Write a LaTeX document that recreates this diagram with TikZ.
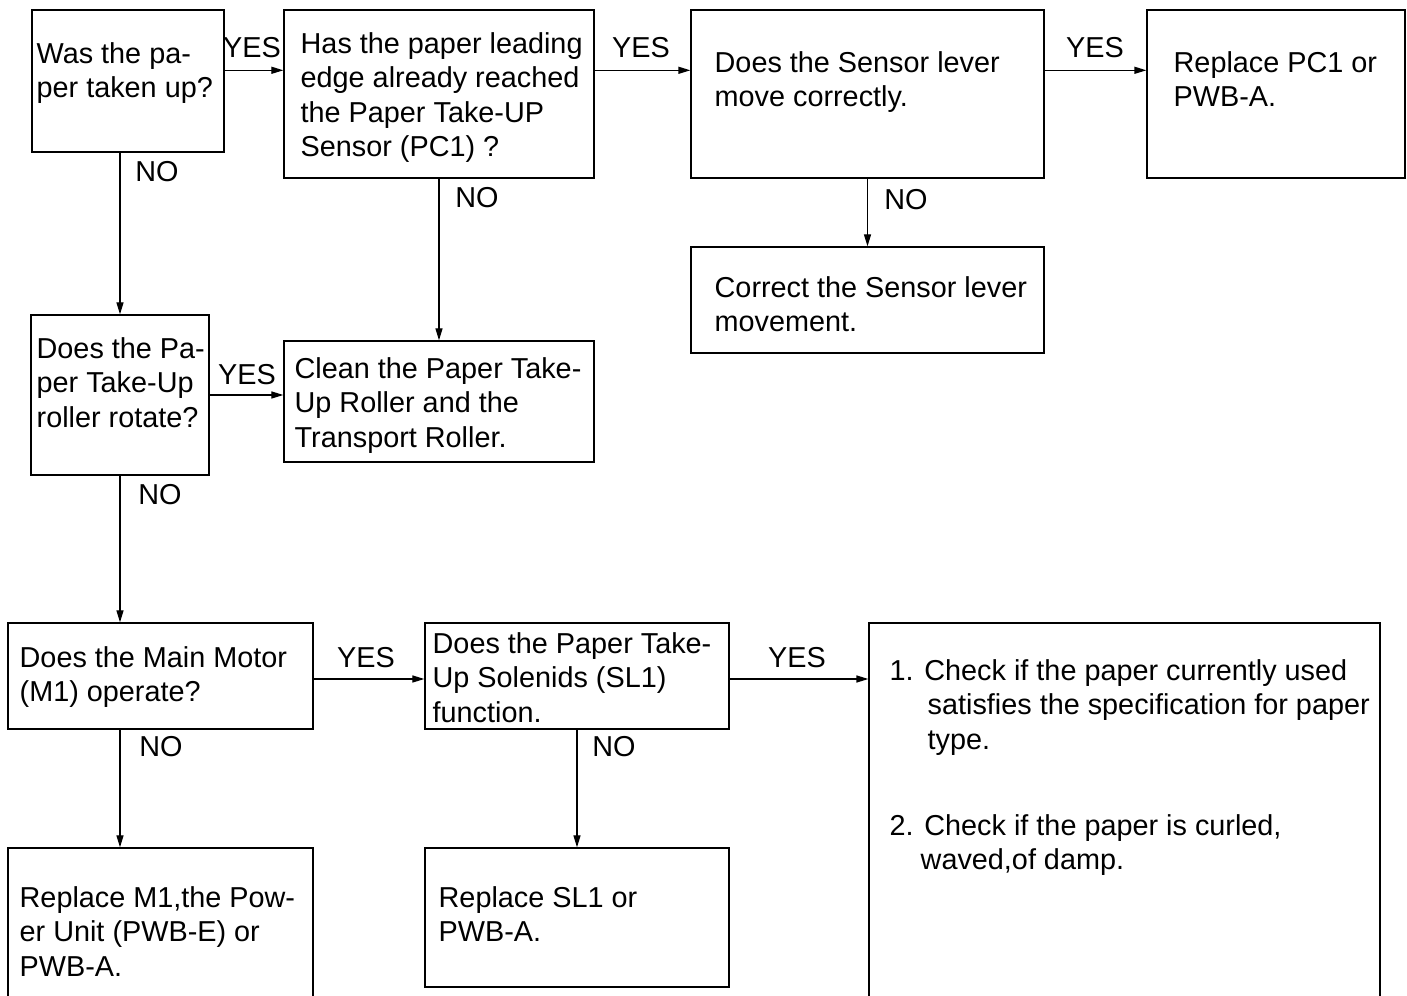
\documentclass[tikz,border=0pt]{standalone}
\usepackage{fontspec}
\setmainfont{Liberation Sans}
\usetikzlibrary{arrows.meta}
\tikzset{box/.style={draw, line width=0.8pt, inner sep=0pt},
  txt/.style={inner sep=0pt, align=left, anchor=north west},
  lbl/.style={inner sep=0pt},
  arr/.style={line width=0.7pt, -{Triangle[length=6.8pt,width=4pt]}}}

\begin{document}
\begin{tikzpicture}[x=0.02cm,y=-0.02cm,font=\fontsize{16.4pt}{19.5pt}\selectfont]
    \clip (0,0) rectangle (1407,996);
    \node[box, minimum width=3.84cm, minimum height=2.84cm] (was) at (128,81) {};
    \node[box, minimum width=6.2cm, minimum height=3.36cm] (reach) at (439,94) {};
    \node[box, minimum width=7.06cm, minimum height=3.36cm] (lever) at (867.5,94) {};
    \node[box, minimum width=5.16cm, minimum height=3.36cm] (pcone) at (1276,94) {};
    \node[box, minimum width=7.06cm, minimum height=2.12cm] (fixlever) at (867.5,300) {};
    \node[box, minimum width=3.56cm, minimum height=3.2cm] (roller) at (120,395) {};
    \node[box, minimum width=6.2cm, minimum height=2.42cm] (clean) at (439,401.5) {};
    \node[box, minimum width=6.1cm, minimum height=2.12cm] (motor) at (160.5,676) {};
    \node[box, minimum width=6.08cm, minimum height=2.12cm] (solen) at (577,676) {};
    \node[box, minimum width=10.22cm, minimum height=7.94cm] (check) at (1124.5,821.5) {};
    \node[box, minimum width=6.1cm, minimum height=3.44cm] (swap) at (160.5,934) {};
    \node[box, minimum width=6.08cm, minimum height=2.78cm] (swapsl) at (577,917.5) {};

    \node[txt] (wasT) at ([shift={(5,33)}]was.north west) {Was the pa-\\per taken up?};
    \node[txt] (reachT) at ([shift={(17,23)}]reach.north west) {Has the paper leading\\edge already reached\\the Paper Take-UP\\Sensor (PC1) ?};
    \node[txt] (leverT) at ([shift={(24,42)}]lever.north west) {Does the Sensor lever\\move correctly.};
    \node[txt] (pconeT) at ([shift={(27,42)}]pcone.north west) {Replace PC1 or\\PWB-A.};
    \node[txt] (fixleverT) at ([shift={(24,30)}]fixlever.north west) {Correct the Sensor lever\\movement.};
    \node[txt] (rollerT) at ([shift={(6,23)}]roller.north west) {Does the Pa-\\per Take-Up\\roller rotate?};
    \node[txt] (cleanT) at ([shift={(11,17)}]clean.north west) {Clean the Paper Take-\\Up Roller and the\\Transport Roller.};
    \node[txt] (motorT) at ([shift={(12,24)}]motor.north west) {Does the Main Motor\\(M1) operate?};
    \node[txt] (solenT) at ([shift={(8,10)}]solen.north west) {Does the Paper Take-\\Up Solenids (SL1)\\function.};
    \node[txt] (checkT) at ([shift={(21,37)}]check.north west) {1. Check if the paper currently used\\\hspace*{0.76cm}satisfies the specification for paper\\\hspace*{0.76cm}type.\\[1.04cm]2. Check if the paper is curled,\\\hspace*{0.62cm}waved,of damp.};
    \node[txt] (swapT) at ([shift={(12,39)}]swap.north west) {Replace M1,the Pow-\\er Unit (PWB-E) or\\PWB-A.};
    \node[txt] (swapslT) at ([shift={(14,39)}]swapsl.north west) {Replace SL1 or\\PWB-A.};

    \coordinate (ab) at ([yshift=-1.22cm]was.north east);
    \coordinate (bc) at ([yshift=-1.22cm]reach.north east);
    \coordinate (cd) at ([yshift=-1.22cm]lever.north east);
    \coordinate (hi) at ([yshift=-0.06cm]motor.east);
    \coordinate (ij) at ([yshift=-0.06cm]solen.east);
    \draw[arr] (ab) -- (ab -| reach.west);
    \draw[arr] (bc) -- (bc -| lever.west);
    \draw[arr] (cd) -- (cd -| pcone.west);
    \draw[arr] (was.south -| roller.north) -- (roller.north);
    \draw[arr] (reach.south) -- (clean.north);
    \draw[arr] (lever.south) -- (fixlever.north);
    \draw[arr] (roller.east) -- (roller.east -| clean.west);
    \draw[arr] (roller.south) -- (roller.south |- motor.north);
    \draw[arr] (hi) -- (hi -| solen.west);
    \draw[arr] (ij) -- (ij -| check.west);
    \draw[arr] (motor.south -| roller.south) -- (swap.north -| roller.south);
    \draw[arr] (solen.south) -- (swapsl.north);

    \node[lbl] (yes1) at (252,48) {YES};
    \node[lbl] (yes2) at (641,48) {YES};
    \node[lbl] (yes3) at (1095,48) {YES};
    \node[lbl] (no1) at (157,172) {NO};
    \node[lbl] (no2) at (477,198) {NO};
    \node[lbl] (no3) at (906,200) {NO};
    \node[lbl] (yes4) at (247,375) {YES};
    \node[lbl] (no4) at (160,495) {NO};
    \node[lbl] (yes5) at (366,658) {YES};
    \node[lbl] (yes6) at (797,658) {YES};
    \node[lbl] (no5) at (161,747) {NO};
    \node[lbl] (no6) at (614,747) {NO};
  \end{tikzpicture}
\end{document}
